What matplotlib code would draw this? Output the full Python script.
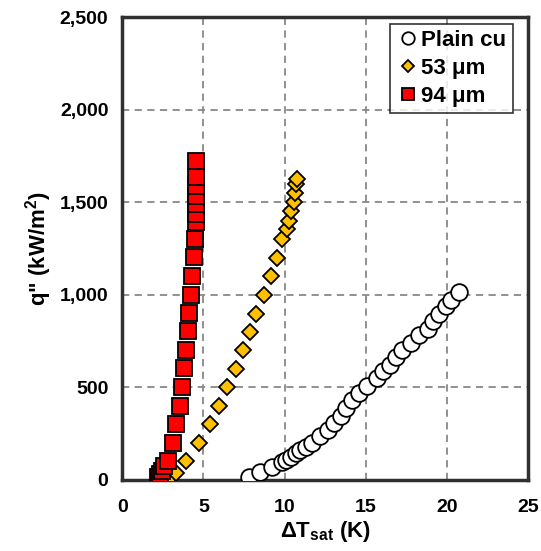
import matplotlib.pyplot as plt
from matplotlib.ticker import FuncFormatter, MultipleLocator

plt.rcParams['font.family'] = ['Liberation Sans', 'DejaVu Sans']
plt.rcParams['font.weight'] = 'bold'
plt.rcParams['mathtext.fontset'] = 'custom'
plt.rcParams['mathtext.bf'] = 'Liberation Sans:bold'
plt.rcParams['mathtext.rm'] = 'Liberation Sans:bold'

# Plain cu
t_plain = [7.8, 8.5, 9.24, 9.86, 10.06, 10.37, 10.68, 10.94, 11.3, 11.71, 12.18,
           12.67, 13.05, 13.46, 13.77, 14.18, 14.59, 15.1, 15.68, 16.09, 16.5,
           16.85, 17.26, 17.78, 18.29, 18.81, 19.12, 19.53, 19.94, 20.25, 20.76]
q_plain = [18, 45, 72, 99, 108, 126, 144, 159, 180, 202, 238,
           271, 310, 346, 388, 429, 469, 505, 550, 586, 622,
           664, 703, 740, 781, 815, 857, 897, 938, 974, 1016]

# 53 um
t_53 = [2.9, 3.0, 3.3, 3.9, 4.75, 5.4, 5.95, 6.46, 7.0, 7.43, 7.84, 8.27, 8.72,
        9.18, 9.53, 9.86, 10.12, 10.27, 10.41, 10.6, 10.64, 10.72, 10.78]
q_53 = [5, 15, 40, 100, 200, 300, 397, 500, 601, 700, 799, 898, 1001,
        1100, 1200, 1299, 1353, 1398, 1452, 1500, 1551, 1596, 1627]

# 94 um
t_94 = [2.2, 2.3, 2.45, 2.6, 2.8, 3.13, 3.33, 3.54, 3.7, 3.83, 3.95, 4.07, 4.12,
        4.24, 4.32, 4.44, 4.49, 4.55, 4.56, 4.56, 4.57, 4.57, 4.57, 4.57]
q_94 = [15, 30, 50, 75, 104, 198, 303, 400, 502, 603, 703, 803, 902,
        1001, 1104, 1205, 1304, 1392, 1439, 1488, 1533, 1587, 1634, 1722]

fig = plt.figure(figsize=(5.41, 5.51), dpi=100)
ax = fig.add_axes([0.226, 0.129, 0.75, 0.84])

ax.plot(t_plain, q_plain, 'o', ms=12, mfc='white', mec='black', mew=1.3,
        label='Plain cu', zorder=3)
ax.plot(t_53, q_53, 'D', ms=8.5, mfc='#FFC000', mec='black', mew=1.3,
        label='53 μm', zorder=3)
ax.plot(t_94, q_94, 's', ms=11.5, mfc='#FF0000', mec='black', mew=1.3,
        label='94 μm', zorder=3)

ax.set_xlim(0, 25)
ax.set_ylim(0, 2500)
ax.xaxis.set_major_locator(MultipleLocator(5))
ax.yaxis.set_major_locator(MultipleLocator(500))
ax.yaxis.set_major_formatter(FuncFormatter(lambda v, p: f'{v:,.0f}'))
ax.grid(True, ls=(0, (4, 3)), color='#888888', lw=1.3)
ax.tick_params(axis='both', length=0, labelsize=14)
ax.tick_params(axis='x', pad=14)
ax.tick_params(axis='y', pad=10)
for lab in ax.get_xticklabels() + ax.get_yticklabels():
    lab.set_fontweight('bold')
for s in ax.spines.values():
    s.set_linewidth(2.5)
    s.set_color('#303030')

ax.set_xlabel(r'ΔT$_{\mathbf{sat}}$ (K)', fontsize=16, fontweight='bold', labelpad=2)
ax.set_ylabel(r'q" (kW/m$^{\mathbf{2}}$)', fontsize=16, fontweight='bold', labelpad=4)

leg = ax.legend(loc='upper right', fontsize=16, frameon=True, fancybox=False,
                edgecolor='black', handletextpad=0.1, handlelength=1.0,
                borderpad=0.3, labelspacing=0.3, markerscale=0.75,
                bbox_to_anchor=(0.99, 1.01))
leg.get_frame().set_linewidth(1.2)
for t in leg.get_texts():
    t.set_fontweight('bold')

fig.savefig('out.png', dpi=100)
